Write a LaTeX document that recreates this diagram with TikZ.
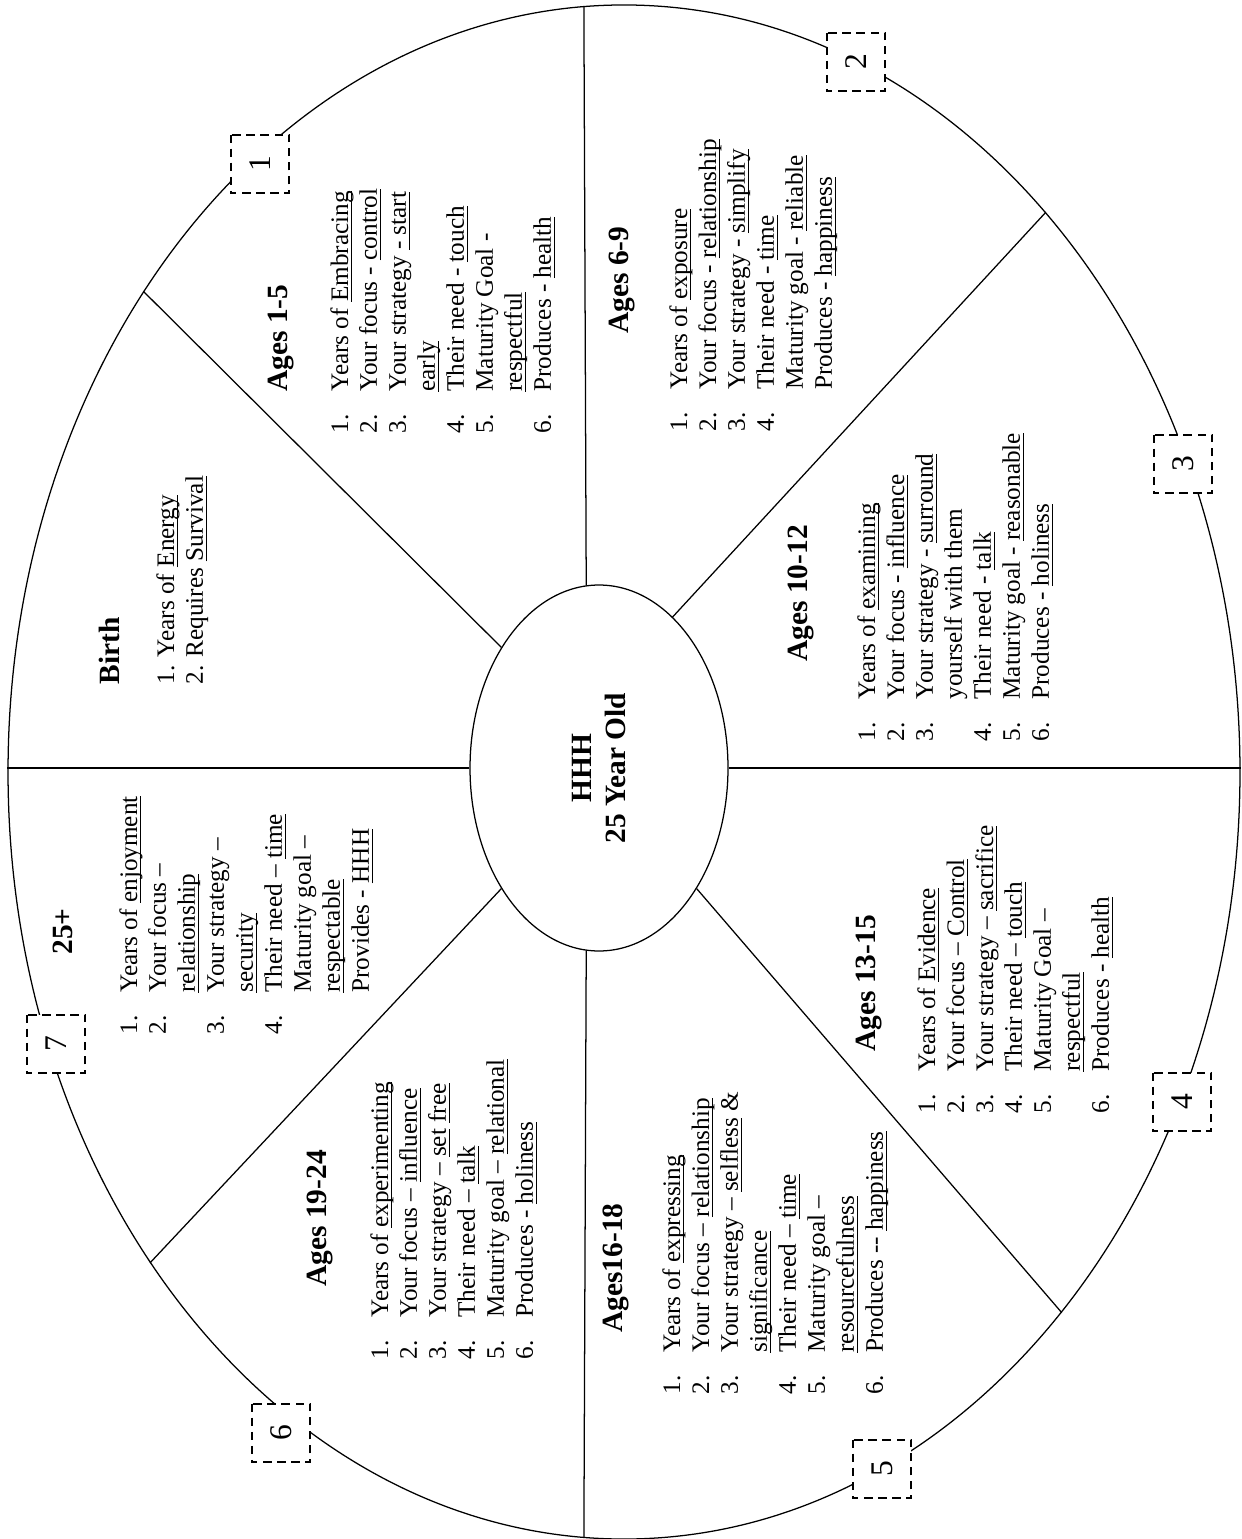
\documentclass[tikz,border=0pt]{standalone}
\usepackage{fontspec}
\setmainfont{Liberation Serif}
\usepackage{tikz}
\usetikzlibrary{shapes.geometric}
\tikzset{rim/.style={draw,ellipse,line width=0.6pt,inner sep=0pt,minimum width=586.4pt,minimum height=730.2pt},
         hub/.style={draw,ellipse,fill=white,line width=0.6pt,inner sep=0pt,minimum width=122.8pt,minimum height=174.2pt},
         numbox/.style={draw,fill=white,line width=1pt,dash pattern=on 4pt off 2.7pt,minimum size=28pt,inner sep=0pt,rotate=90,font=\fontsize{15}{17}\selectfont},
         agehead/.style={rotate=90,anchor=base west,inner sep=0pt,font=\fontsize{14}{16.1}\selectfont\bfseries},
         agelist/.style={rotate=90,anchor=base west,inner sep=0pt,font=\fontsize{12}{13.8}\selectfont},
         every edge/.append style={line width=0.6pt}}
\newcommand{\ulword}[1]{\setbox0\hbox{#1}\rlap{\rule[-1.9pt]{\wd0}{0.5pt}}\box0\relax}
\newcommand{\stagelist}[1]{\begin{tabular}[t]{@{}p{20pt}@{}l@{}}#1\end{tabular}}

\begin{document}
\begin{tikzpicture}[x=0.476pt,y=-0.476pt]
                   \useasboundingbox (0,0) rectangle (1241,1539);
                   \node[rim] (rim) at (624,772) {};
                   \node[hub] (hub) at (599,768) {};
                   \node[rotate=90,align=center,font=\fontsize{14}{16.1}\selectfont\bfseries] (hubtext) at (hub.center) {HHH\\25 Year Old};
                    \path
                    (hub.94) edge (rim.93)
                    (hub.266) edge (rim.267)
                    (hub.west) edge (hub.west -| rim.west)
                    (hub.east) edge (hub.east -| rim.east)
                    (hub.129) edge (rim.135)
                    (hub.64) edge (rim.53)
                    (hub.231) edge (rim.226)
                    (hub.309) edge (rim.309)
                    ;
                   \node[numbox] (m1) at (260,164) {1};
                   \node[numbox] (m2) at (856,62) {2};
                   \node[numbox] (m3) at (1183,464) {3};
                   \node[numbox] (m4) at (1182,1102) {4};
                   \node[numbox] (m5) at (882,1469) {5};
                   \node[numbox] (m6) at (281,1433) {6};
                   \node[numbox] (m7) at (56,1044) {7};
                   \node[agehead] (birthhd) at (119,685) {Birth};
                   \node[agelist] (birth) at (174,685) {\begin{tabular}[t]{@{}l@{}}1. Years of \ulword{Energy}\\ 2. Requires \ulword{Survival}\end{tabular}};
                   \node[agehead] (a1hd) at (287,392) {Ages 1-5};
                   \node[agelist] (a1) at (348,434) {\stagelist{1. & Years of \ulword{Embracing}\\ 2. & Your focus - \ulword{control}\\ 3. & Your strategy \ulword{- start}\\ & \ulword{early}\\ 4. & Their need - \ulword{touch}\\ 5. & Maturity Goal -\\ & \ulword{respectful}\\ 6. & Produces - \ulword{health}}};
                   \node[agehead] (a6hd) at (628,334) {Ages 6-9};
                   \node[agelist] (a6) at (687,432) {\stagelist{1. & Years of \ulword{exposure}\\ 2. & Your focus - \ulword{relationship}\\ 3. & Your strategy - \ulword{simplify}\\ 4. & Their need - \ulword{time}\\ & Maturity goal - \ulword{reliable}\\ & Produces - \ulword{happiness}}};
                   \node[agehead] (a10hd) at (807,662) {Ages 10-12};
                   \node[agelist] (a10) at (875,742) {\stagelist{1. & Years of \ulword{examining}\\ 2. & Your focus - \ulword{influence}\\ 3. & Your strategy - \ulword{surround}\\ & yourself with them\\ 4. & Their need - \ulword{talk}\\ 5. & Maturity goal - \ulword{reasonable}\\ 6. & Produces - \ulword{holiness}}};
                   \node[agehead] (a13hd) at (875,1052) {Ages 13-15};
                   \node[agelist] (a13) at (935,1114) {\stagelist{1. & Years of \ulword{Evidence}\\ 2. & Your focus -- \ulword{Control}\\ 3. & Your strategy -- \ulword{sacrifice}\\ 4. & Their need -- \ulword{touch}\\ 5. & Maturity Goal --\\ & \ulword{respectful}\\ 6. & Produces - \ulword{health}}};
                   \node[agehead] (a16hd) at (622,1333) {Ages16-18};
                   \node[agelist] (a16) at (680,1395) {\stagelist{1. & Years of \ulword{expressing}\\ 2. & Your focus -- \ulword{relationship}\\ 3. & Your strategy -- \ulword{selfless} \&\\ & \ulword{significance}\\ 4. & Their need -- \ulword{time}\\ 5. & Maturity goal --\\ & \ulword{resourcefulness}\\ 6. & Produces -{}- \ulword{happiness}}};
                   \node[agehead] (a19hd) at (326,1287) {Ages 19-24};
                   \node[agelist] (a19) at (388,1360) {\stagelist{1. & Years of \ulword{experimenting}\\ 2. & Your focus -- \ulword{influence}\\ 3. & Your strategy -- \ulword{set} \ulword{free}\\ 4. & Their need -- \ulword{talk}\\ 5. & Maturity goal -- \ulword{relational}\\ 6. & Produces - \ulword{holiness}}};
                   \node[agehead] (a25hd) at (72,955) {25+};
                   \node[agelist] (a25) at (137,1035) {\stagelist{1. & Years of \ulword{enjoyment}\\ 2. & Your focus --\\ & \ulword{relationship}\\ 3. & Your strategy --\\ & \ulword{security}\\ 4. & Their need -- \ulword{time}\\ & Maturity goal --\\ & \ulword{respectable}\\ & Provides - \ulword{HHH}}};
                \end{tikzpicture}
\end{document}
